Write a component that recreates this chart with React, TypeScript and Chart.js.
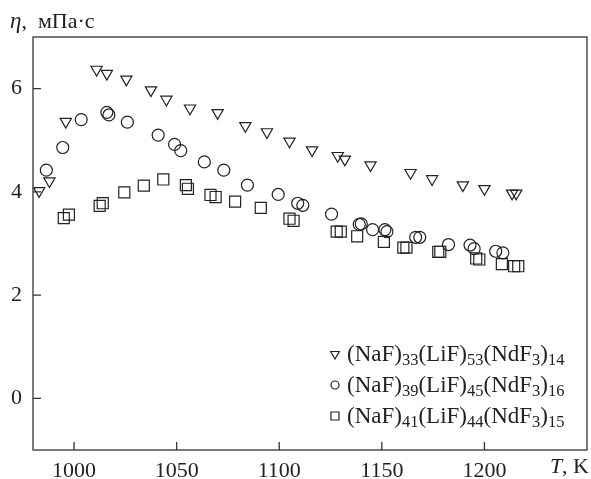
import React, { useEffect, useRef } from 'react';
import { Chart, registerables } from 'chart.js';

Chart.register(...registerables);

// ---- data ----
const SERIES_LABELS = [
  '(NaF)33(LiF)53(NdF3)14',
  '(NaF)39(LiF)45(NdF3)16',
  '(NaF)41(LiF)44(NdF3)15',
];

const TRI_T = [983, 988, 996, 1011, 1016, 1025.5, 1037.5, 1045, 1056.5, 1070, 1083.5, 1094, 1105, 1116, 1128.5, 1132, 1144.5, 1164, 1174.5, 1189.5, 1200, 1213.5, 1215.5];
const TRI_ETA = [4.02, 4.21, 5.36, 6.37, 6.29, 6.18, 5.97, 5.79, 5.62, 5.53, 5.28, 5.16, 4.98, 4.81, 4.7, 4.63, 4.52, 4.37, 4.25, 4.13, 4.06, 3.97, 3.97];

const CIR_T = [986.5, 994.5, 1003.5, 1016, 1017, 1026, 1041, 1049, 1052, 1063.5, 1073, 1084.5, 1099.5, 1109, 1111.5, 1125.5, 1139, 1140, 1145.5, 1151.5, 1152.5, 1166.5, 1168.5, 1182.5, 1193, 1195, 1205.5, 1209];
const CIR_ETA = [4.42, 4.86, 5.4, 5.54, 5.49, 5.35, 5.1, 4.92, 4.8, 4.58, 4.42, 4.13, 3.95, 3.78, 3.74, 3.57, 3.37, 3.38, 3.27, 3.27, 3.23, 3.12, 3.12, 2.98, 2.97, 2.9, 2.85, 2.82];

const SQ_T = [995, 997.5, 1012.5, 1014, 1024.5, 1034, 1043.5, 1054.5, 1055.5, 1066.5, 1069, 1078.5, 1091, 1105, 1107, 1128, 1130, 1138, 1151, 1160.5, 1162, 1177.5, 1178.5, 1196, 1197.5, 1208.5, 1214.5, 1216.5];
const SQ_ETA = [3.49, 3.56, 3.73, 3.78, 3.99, 4.12, 4.24, 4.13, 4.06, 3.94, 3.9, 3.81, 3.69, 3.48, 3.44, 3.23, 3.23, 3.14, 3.03, 2.92, 2.92, 2.84, 2.84, 2.71, 2.69, 2.6, 2.56, 2.56];

const X_TICKS = [1000, 1050, 1100, 1150, 1200];
const Y_TICKS = [0, 2, 4, 6];
const X_MIN = 980;
const X_MAX = 1250;
const Y_MIN = -1;
const Y_MAX = 7;

const Y_TITLE_SYMBOL = 'η';
const Y_TITLE_UNIT = ',  мПа·с';
const X_TITLE_SYMBOL = 'T';
const X_TITLE_UNIT = ', K';

const INK = '#222222';
const FONT_FAMILY = '"Liberation Serif", "DejaVu Serif", serif';

function toPoints(xs: number[], ys: number[]) {
  return xs.map((x, i) => ({ x, y: ys[i] }));
}

function drawMarker(ctx: CanvasRenderingContext2D, kind: number, x: number, y: number, r: number) {
  ctx.beginPath();
  if (kind === 0) {
    const h = r * Math.sin(Math.PI / 3);
    ctx.moveTo(x, y + r);
    ctx.lineTo(x - h, y - r / 2);
    ctx.lineTo(x + h, y - r / 2);
    ctx.closePath();
  } else if (kind === 1) {
    ctx.arc(x, y, r, 0, Math.PI * 2);
  } else {
    ctx.rect(x - r, y - r, 2 * r, 2 * r);
  }
  ctx.stroke();
}

function drawRich(ctx: CanvasRenderingContext2D, text: string, x: number, y: number) {
  const parts = text.match(/\d+|\D+/g) || [];
  let cx = x;
  for (const p of parts) {
    const sub = /^\d/.test(p);
    ctx.font = sub ? `16.5px ${FONT_FAMILY}` : `23px ${FONT_FAMILY}`;
    ctx.fillText(p, cx, sub ? y + 4 : y);
    cx += ctx.measureText(p).width;
  }
}

const decorPlugin = {
  id: 'decor',
  afterDraw(chart: any) {
    const { ctx, chartArea } = chart;
    const { left, right, top, bottom } = chartArea;
    const xs = chart.scales.x;
    const ys = chart.scales.y;
    ctx.save();
    // frame
    ctx.strokeStyle = '#333';
    ctx.lineWidth = 1.3;
    ctx.strokeRect(left, top, right - left, bottom - top);
    // inward ticks
    ctx.beginPath();
    for (const v of X_TICKS) {
      const px = xs.getPixelForValue(v);
      ctx.moveTo(px, bottom);
      ctx.lineTo(px, bottom - 8);
    }
    for (const v of Y_TICKS) {
      const py = ys.getPixelForValue(v);
      ctx.moveTo(left, py);
      ctx.lineTo(left + 8, py);
    }
    ctx.stroke();

    // axis titles
    ctx.fillStyle = INK;
    ctx.textBaseline = 'alphabetic';
    ctx.textAlign = 'left';
    ctx.font = `italic 23px ${FONT_FAMILY}`;
    ctx.fillText(Y_TITLE_SYMBOL, 10, 28);
    const w = ctx.measureText(Y_TITLE_SYMBOL).width;
    ctx.font = `22px ${FONT_FAMILY}`;
    ctx.fillText(Y_TITLE_UNIT, 10 + w, 28);

    ctx.font = `italic 22px ${FONT_FAMILY}`;
    const wT = ctx.measureText(X_TITLE_SYMBOL).width;
    ctx.font = `22px ${FONT_FAMILY}`;
    const wU = ctx.measureText(X_TITLE_UNIT).width;
    const xStart = 589 - wT - wU;
    ctx.font = `italic 22px ${FONT_FAMILY}`;
    ctx.fillText(X_TITLE_SYMBOL, xStart, 473);
    ctx.font = `22px ${FONT_FAMILY}`;
    ctx.fillText(X_TITLE_UNIT, xStart + wT, 473);

    // legend
    const rows = [bottom - 96, bottom - 65, bottom - 34];
    const mx = right - 252;
    ctx.strokeStyle = INK;
    ctx.lineWidth = 1.2;
    SERIES_LABELS.forEach((label, i) => {
      const ry = rows[i];
      drawMarker(ctx, i, mx, ry, i === 0 ? 5 : 4);
      drawRich(ctx, label, mx + 12, ry + 7);
    });
    ctx.restore();
  },
};

export default function App() {
  const ref = useRef<HTMLCanvasElement | null>(null);

  useEffect(() => {
    document.body.style.margin = '0';
    const canvas = ref.current;
    if (!canvas) return;
    const common = {
      showLine: false,
      borderColor: INK,
      backgroundColor: 'rgba(0,0,0,0)',
      pointBorderColor: INK,
      pointBackgroundColor: 'rgba(0,0,0,0)',
      pointBorderWidth: 1.2,
      pointHoverRadius: 0,
    };
    const chart = new Chart(canvas, {
      type: 'scatter',
      data: {
        datasets: [
          { ...common, label: SERIES_LABELS[0], data: toPoints(TRI_T, TRI_ETA), pointStyle: 'triangle', rotation: 180, pointRadius: 6.5 },
          { ...common, label: SERIES_LABELS[1], data: toPoints(CIR_T, CIR_ETA), pointStyle: 'circle', pointRadius: 6 },
          { ...common, label: SERIES_LABELS[2], data: toPoints(SQ_T, SQ_ETA), pointStyle: 'rect', pointRadius: 7.8 },
        ] as any,
      },
      options: {
        animation: false,
        responsive: false,
        devicePixelRatio: 1,
        layout: { autoPadding: false, padding: { top: 37, right: 4, left: 0, bottom: 0 } },
        plugins: { legend: { display: false }, tooltip: { enabled: false }, title: { display: false } },
        events: [],
        scales: {
          x: {
            type: 'linear',
            min: X_MIN,
            max: X_MAX,
            afterBuildTicks: (s: any) => { s.ticks = X_TICKS.map((v) => ({ value: v })); },
            afterFit: (s: any) => { s.height = 29; s.paddingLeft = 0; s.paddingRight = 0; },
            grid: { display: false, drawTicks: false },
            border: { display: false },
            ticks: { color: INK, font: { family: FONT_FAMILY, size: 22 }, padding: 8, maxRotation: 0, autoSkip: false, callback: (v: any) => String(v) },
          },
          y: {
            type: 'linear',
            min: Y_MIN,
            max: Y_MAX,
            afterBuildTicks: (s: any) => { s.ticks = Y_TICKS.map((v) => ({ value: v })); },
            afterFit: (s: any) => { s.width = 33; s.paddingTop = 0; s.paddingBottom = 0; },
            grid: { display: false, drawTicks: false },
            border: { display: false },
            ticks: { color: INK, font: { family: FONT_FAMILY, size: 22 }, padding: 11, callback: (v: any) => String(v) },
          },
        },
      } as any,
      plugins: [decorPlugin],
    });
    return () => chart.destroy();
  }, []);

  return (
    <div style={{ width: 591, height: 479, position: 'relative', background: '#fff' }}>
      <canvas ref={ref} width={591} height={479} style={{ display: 'block', width: 591, height: 479 }} />
    </div>
  );
}
